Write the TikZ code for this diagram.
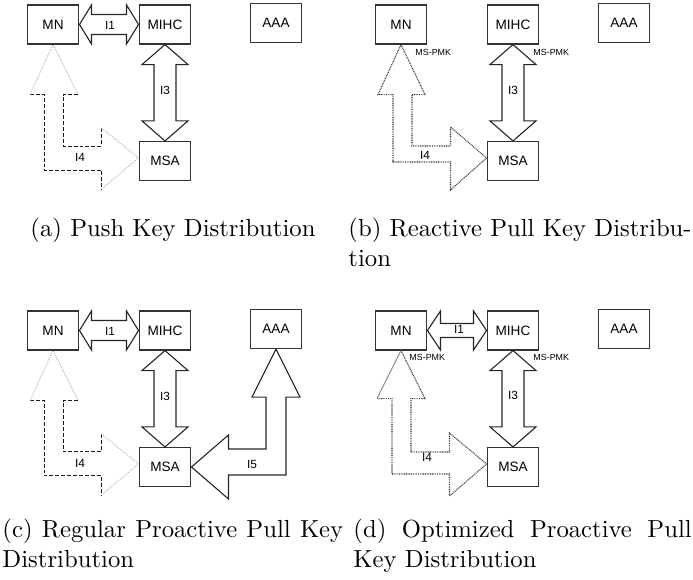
\documentclass[tikz,border=0pt]{standalone}
\usepackage{fontspec}
\newfontfamily\arialfont{Liberation Sans}
\usetikzlibrary{calc}

\tikzset{
  entity/.style={draw=black!80, line width=0.45pt, minimum width=21pt,
    minimum height=15.8pt, inner sep=0pt,
    font=\arialfont\fontsize{5.5}{6}\selectfont},
  iface/.style={draw=black!85, line width=0.45pt},
  lbl/.style={inner sep=0pt, font=\arialfont\fontsize{4.8}{5}\selectfont},
  pmk/.style={inner sep=0pt, anchor=west, font=\arialfont\fontsize{3.6}{4}\selectfont},
  push/.style={black!90, line width=0.4pt, dash pattern=on 1.6pt off 0.8pt},
  hint/.style={black!30, line width=0.4pt, dash pattern=on 0.4pt off 0.5pt},
  pull/.style={black!80, line width=0.45pt, dash pattern=on 0.35pt off 0.35pt},
  subcap/.style={inner sep=0pt, font=\fontsize{10}{12.15}\selectfont, align=left}
}

\begin{document}
\begin{tikzpicture}[x=0.405pt, y=-0.405pt]
  \useasboundingbox (0,0) rectangle (693,580);

  % (a) push key distribution
  \begin{scope}[name prefix=a-]
    \node[entity] (mn) at (53,24.5) {MN};
    \node[entity] (mihc) at (165,24.5) {MIHC};
    \node[entity] (aaa) at (276,23) {AAA};
    \node[entity] (msa) at (165,161) {MSA};
    % I1
    \draw[iface] (mn.east) -- ++(12,-19.5) -- ++(0,9.5) -- ($(mihc.west)+(-12,-10)$) -- ++(0,-9.5)
      -- (mihc.west) -- ++(-12,19.5) -- ++(0,-9.5) -- ($(mn.east)+(12,10)$) -- ++(0,9.5) -- cycle;
    \node[lbl] (i1) at (110,25) {I1};
    % I3
    \draw[iface] (mihc.south) -- ++(23,20) -- ++(-12,0) -- ($(msa.north)+(11,-20)$) -- ++(12,0)
      -- (msa.north) -- ++(-23,-20) -- ++(12,0) -- ($(mihc.south)+(-11,20)$) -- ++(-12,0) -- cycle;
    \node[lbl] (i3) at (165,90) {I3};
    % I4
    \coordinate (up) at ($(mn.south)+(0,50)$);
    \coordinate (rt) at ($(msa.west)+(-37,-3)$);
    \draw[push] ($(up)+(-23,0)$) -- ($(up)+(-9,0)$) |- ($(rt)+(0,12)$) -- ($(rt)+(0,31)$);
    \draw[push] ($(up)+(25,0)$) -- ($(up)+(10,0)$) |- ($(rt)+(0,-12)$) -- ($(rt)+(0,-30)$);
    \draw[hint] ($(up)+(-23,0)$) -- (mn.south) -- ($(up)+(25,0)$);
    \draw[hint] ($(rt)+(0,-30)$) -- ($(msa.west)+(0,-3)$) -- ($(rt)+(0,31)$);
    \node[lbl] (i4) at (80,157) {I4};
  \end{scope}

  % (b) reactive pull key distribution
  \begin{scope}[shift={(348,0)}, name prefix=b-]
    \node[entity] (mn) at (53,24.5) {MN};
    \node[entity] (mihc) at (165,24.5) {MIHC};
    \node[entity] (aaa) at (276,23) {AAA};
    \node[entity] (msa) at (165,161) {MSA};
    \node[pmk] (k1) at ($(mn.south)+(14,8)$) {MS-PMK};
    \node[pmk] (k2) at ($(mihc.south)+(20,8)$) {MS-PMK};
    % I3
    \draw[iface] (mihc.south) -- ++(23,20) -- ++(-12,0) -- ($(msa.north)+(11,-20)$) -- ++(12,0)
      -- (msa.north) -- ++(-23,-20) -- ++(12,0) -- ($(mihc.south)+(-11,20)$) -- ++(-12,0) -- cycle;
    \node[lbl] (i3) at (165,90) {I3};
    % I4
    \coordinate (up) at ($(mn.south)+(0,50)$);
    \coordinate (rt) at ($(msa.west)+(-36,-3)$);
    \draw[pull] (mn.south) -- ($(up)+(24,0)$) -- ($(up)+(11,0)$) |- ($(rt)+(0,-12)$) -- ($(rt)+(0,-31)$)
      -- ($(msa.west)+(0,-3)$) -- ($(rt)+(0,32)$) -- ($(rt)+(0,4)$) -| ($(up)+(-8,0)$)
      -- ($(up)+(-23,0)$) -- cycle;
    \node[lbl] (i4) at (77,155) {I4};
  \end{scope}

  % (c) regular proactive pull key distribution
  \begin{scope}[shift={(0,306)}, name prefix=c-]
    \node[entity] (mn) at (53,24.5) {MN};
    \node[entity] (mihc) at (165,24.5) {MIHC};
    \node[entity] (aaa) at (276,23) {AAA};
    \node[entity] (msa) at (165,161) {MSA};
    % I1
    \draw[iface] (mn.east) -- ++(12,-19.5) -- ++(0,9.5) -- ($(mihc.west)+(-12,-10)$) -- ++(0,-9.5)
      -- (mihc.west) -- ++(-12,19.5) -- ++(0,-9.5) -- ($(mn.east)+(12,10)$) -- ++(0,9.5) -- cycle;
    \node[lbl] (i1) at (110,25) {I1};
    % I3
    \draw[iface] (mihc.south) -- ++(23,20) -- ++(-12,0) -- ($(msa.north)+(11,-20)$) -- ++(12,0)
      -- (msa.north) -- ++(-23,-20) -- ++(12,0) -- ($(mihc.south)+(-11,20)$) -- ++(-12,0) -- cycle;
    \node[lbl] (i3) at (165,90) {I3};
    % I4
    \coordinate (up) at ($(mn.south)+(0,50)$);
    \coordinate (rt) at ($(msa.west)+(-37,-3)$);
    \draw[push] ($(up)+(-23,0)$) -- ($(up)+(-9,0)$) |- ($(rt)+(0,12)$) -- ($(rt)+(0,31)$);
    \draw[push] ($(up)+(25,0)$) -- ($(up)+(10,0)$) |- ($(rt)+(0,-12)$) -- ($(rt)+(0,-30)$);
    \draw[hint] ($(up)+(-23,0)$) -- (mn.south) -- ($(up)+(25,0)$);
    \draw[hint] ($(rt)+(0,-30)$) -- ($(msa.west)+(0,-3)$) -- ($(rt)+(0,31)$);
    \node[lbl] (i4) at (80,157) {I4};
    % I5
    \draw[iface] (msa.east) -- ++(37,-32) -- ++(0,14) -| ($(aaa.south)+(-10,48)$) -- ++(-14,0)
      -- (aaa.south) -- ++(24,48) -- ++(-14,0) |- ($(msa.east)+(37,8)$) -- ++(0,24) -- cycle;
    \node[lbl] (i5) at (252,158) {I5};
  \end{scope}

  % (d) optimized proactive pull key distribution
  \begin{scope}[shift={(348,306)}, name prefix=d-]
    \node[entity] (mn) at (53,24.5) {MN};
    \node[entity] (mihc) at (165,24.5) {MIHC};
    \node[entity] (aaa) at (276,23) {AAA};
    \node[entity] (msa) at (165,161) {MSA};
    \node[pmk] (k1) at ($(mn.south)+(8,7)$) {MS-PMK};
    \node[pmk] (k2) at ($(mihc.south)+(20,7)$) {MS-PMK};
    % I1
    \draw[iface] (mn.east) -- ++(13,-19.5) -- ++(0,12.5) -- ($(mihc.west)+(-13,-7)$) -- ++(0,-12.5)
      -- (mihc.west) -- ++(-13,19.5) -- ++(0,-12.5) -- ($(mn.east)+(13,7)$) -- ++(0,12.5) -- cycle;
    \node[lbl] (i1) at (111,23) {I1};
    % I3
    \draw[iface] (mihc.south) -- ++(23,20) -- ++(-12,0) -- ($(msa.north)+(11,-20)$) -- ++(12,0)
      -- (msa.north) -- ++(-23,-20) -- ++(12,0) -- ($(mihc.south)+(-11,20)$) -- ++(-12,0) -- cycle;
    \node[lbl] (i3) at (165,89) {I3};
    % I4
    \coordinate (up) at ($(mn.south)+(0,48)$);
    \coordinate (rt) at ($(msa.west)+(-37,-3)$);
    \draw[pull] (mn.south) -- ($(up)+(24,0)$) -- ($(up)+(10,0)$) |- ($(rt)+(0,-12)$) -- ($(rt)+(0,-31)$)
      -- ($(msa.west)+(0,-3)$) -- ($(rt)+(0,32)$) -- ($(rt)+(0,10)$) -| ($(up)+(-9,0)$)
      -- ($(up)+(-24,0)$);
    \draw[black!45, line width=0.4pt] ($(up)+(-24,0)$) -- (mn.south);
    \node[lbl] (i4) at (79,151) {I4};
  \end{scope}

  % captions (base = last line)
  \node[subcap, anchor=base] (capa) at (173,237) {(a) Push Key Distribution};
  \node[subcap, anchor=base west] (capb) at (348,267)
    {\makebox[139pt][s]{(b) Reactive Pull Key Distribu-}\\tion};
  \node[subcap, anchor=base west] (capc) at (2,568)
    {\makebox[138pt][s]{(c) Regular Proactive Pull Key}\\Distribution};
  \node[subcap, anchor=base west] (capd) at (353,568)
    {\makebox[137pt][s]{(d) Optimized Proactive Pull}\\Key Distribution};
\end{tikzpicture}
\end{document}
